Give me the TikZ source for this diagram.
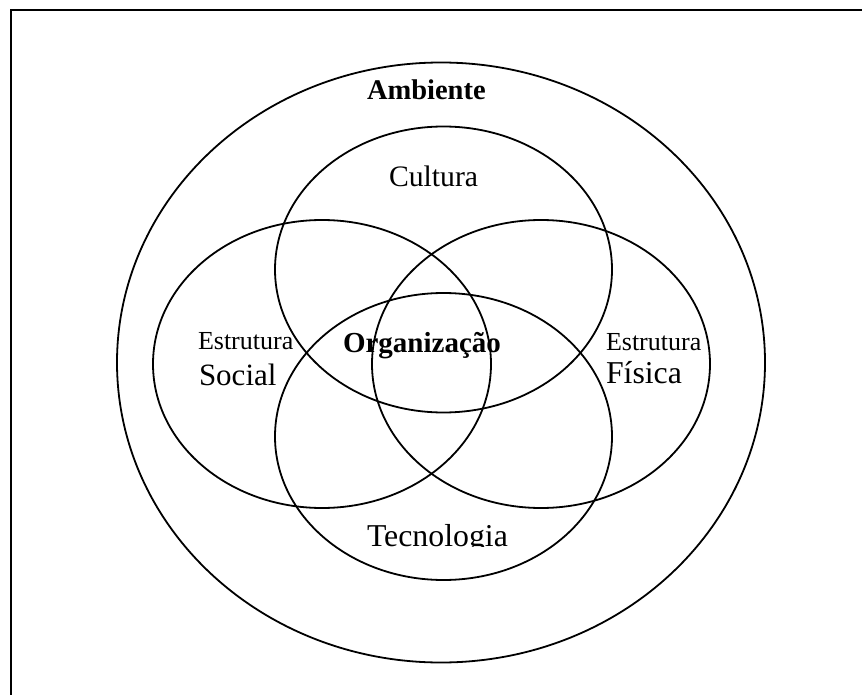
\documentclass[tikz,border=0pt]{standalone}
\usepackage{fontspec}
\setmainfont{Liberation Serif}
\begin{document}
\begin{tikzpicture}[x=1pt,y=-1pt,
  ring/.style={draw=black,line width=1.8pt},
  lbl/.style={anchor=base west,inner sep=0pt,outer sep=0pt},
  fs/.style={font=\fontsize{#1}{#1}\selectfont},
  fsb/.style={font=\fontsize{#1}{#1}\selectfont\bfseries}]
\useasboundingbox (0,0) rectangle (862,695);
\clip (0,0) rectangle (862,695);
% frame
\draw[line width=2.4pt] (11,10) rectangle (880,720);
% environment
\draw[ring] (441,362.5) ellipse [x radius=324pt, y radius=300pt];
% the four overlapping sets
\draw[ring] (443.5,269.5) ellipse [x radius=168.5pt, y radius=143pt];
\draw[ring] (322,364) ellipse [x radius=169pt, y radius=144pt];
\draw[ring] (541,364) ellipse [x radius=169pt, y radius=144pt];
\draw[ring] (443.5,436.5) ellipse [x radius=168.5pt, y radius=143.5pt];
% labels
\node[lbl,fsb=28.5] (amb) at (367,100) {Ambiente};
\node[lbl,fs=29.7] (cul) at (389,187) {Cultura};
\node[lbl,fs=26] (esl) at (198,349) {Estrutura};
\node[lbl,fs=31] (soc) at (199,385) {Social};
\node[lbl,fsb=29] (org) at (343,352) {Organização};
\node[lbl,fs=26] (esr) at (606,350) {Estrutura};
\node[lbl,fs=31.8] (fis) at (606,383) {Física};
\begin{scope}
  \clip (300,500) rectangle (600,546);
  \node[lbl,fs=31.8] (tec) at (367,546) {Tecnologia};
\end{scope}
\end{tikzpicture}
\end{document}
